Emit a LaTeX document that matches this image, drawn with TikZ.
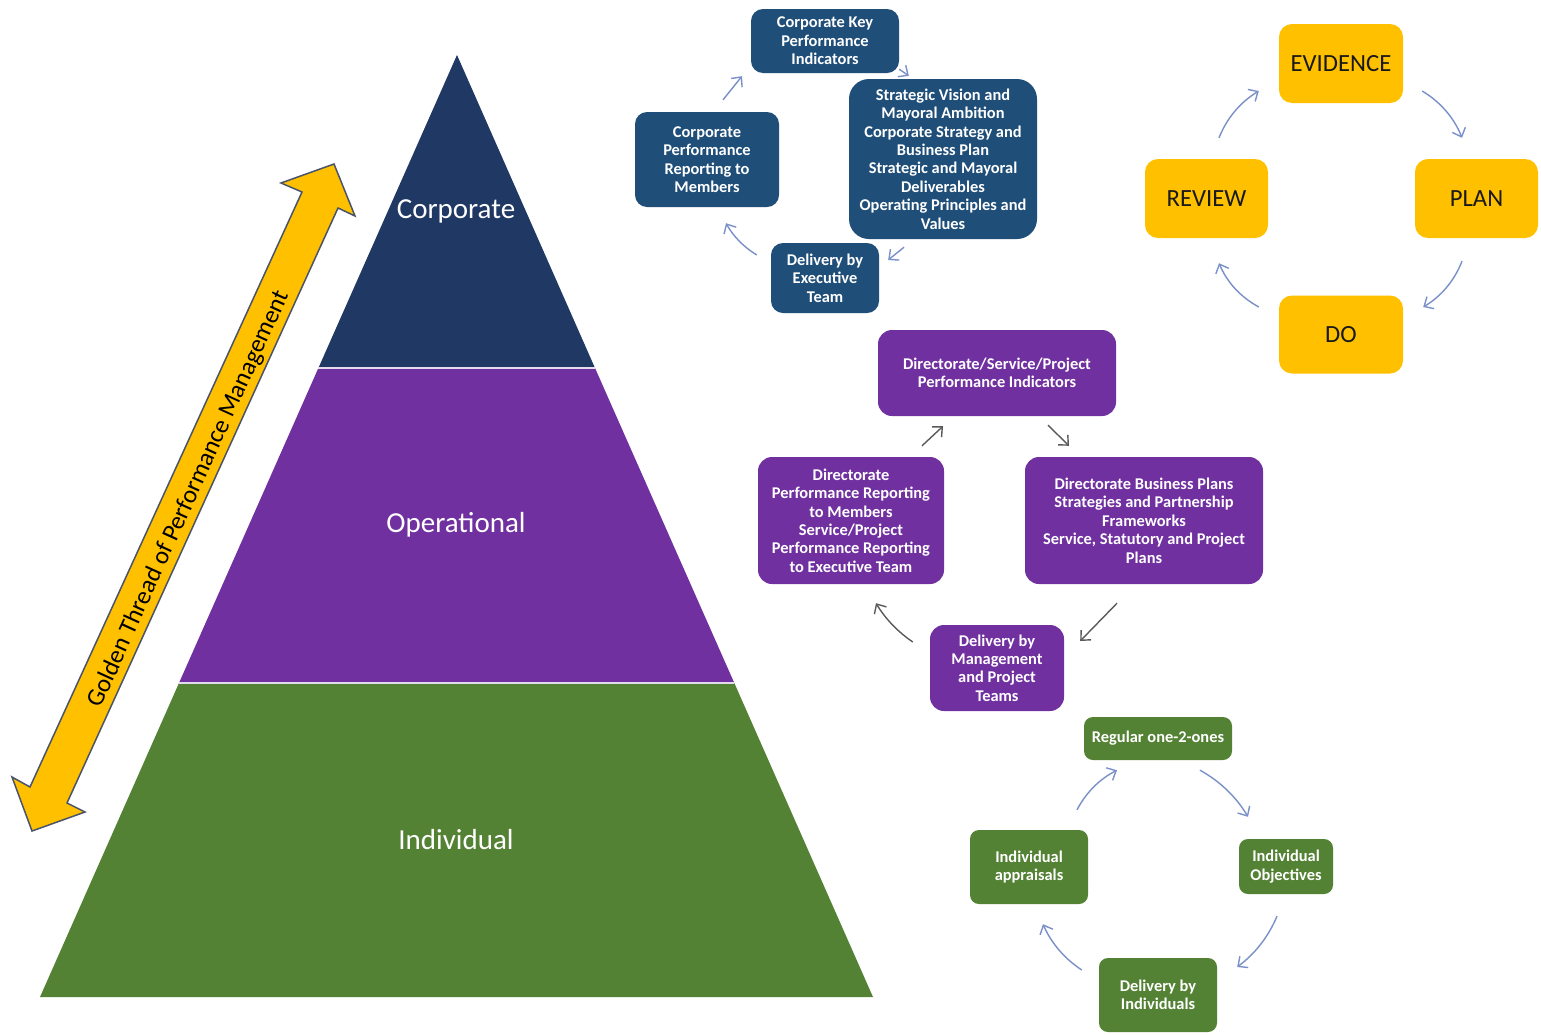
\documentclass[tikz,border=0pt]{standalone}
\usepackage{fontspec}
\setmainfont{Carlito}
\usetikzlibrary{arrows.meta}
\definecolor{navy}{HTML}{203864}
\definecolor{boxblue}{HTML}{1F4E79}
\definecolor{purp}{HTML}{7030A0}
\definecolor{grn}{HTML}{548235}
\definecolor{gold}{HTML}{FFC000}
\definecolor{arrblue}{HTML}{7A90C8}
\definecolor{arrgray}{HTML}{5A5A5A}
\definecolor{outl}{HTML}{4A5468}
\definecolor{sepline}{HTML}{E4DCEC}
\begin{document}
\begin{tikzpicture}[x=1pt,y=-1pt,
  boxtext/.style={inner sep=0pt, align=center, text=white, font=\fontsize{16.4}{18.4}\selectfont\bfseries},
  bluebox/.style={boxtext, fill=boxblue, rounded corners=12pt},
  purpbox/.style={boxtext, fill=purp, rounded corners=14pt},
  grnbox/.style={boxtext, fill=grn, rounded corners=9pt},
  yelbox/.style={fill=gold, rounded corners=13pt, inner sep=0pt, text=black!90, font=\fontsize{24.7}{28}\selectfont},
  cycarrow/.style={-{Straight Barb[length=7.5pt,width=14pt]}, line width=1.4pt, draw=arrblue},
  grayarrow/.style={cycarrow, draw=arrgray},
  level/.style={text=white, font=\fontsize{29}{34}\selectfont}]
\useasboundingbox (0,0) rectangle (1541,1034);
\fill[white] (0,0) rectangle (1541,1034);

% pyramid
\fill[navy] (457,55) -- (595,368) -- (318.4,368) -- cycle;
\fill[purp] (318.4,368) -- (595,368) -- (734.3,683) -- (179,683) -- cycle;
\fill[grn] (179,683) -- (734.3,683) -- (873,997) -- (40,997) -- cycle;
\draw[sepline, line width=2pt] (318.4,368) -- (595,368);
\draw[sepline, line width=2pt] (179,683) -- (734.3,683);
\node[level] (lcorp) at (456,211) {Corporate};
\node[level] (loper) at (456,525) {Operational};
\node[level] (lind) at (456,840) {Individual};

% golden thread arrow
\draw[fill=gold, draw=outl, line width=1.5pt, line join=miter]
  (334,164) -- (355,216) -- (338,208) -- (67,803) -- (85,812) -- (32,831)
  -- (12,777) -- (30,787) -- (302,192) -- (281,183) -- cycle;
\node[rotate=65.5, text=black, font=\fontsize{25}{30}\selectfont] (gtext) at (189,499) {Golden Thread of Performance Management};

% corporate cycle
\node[bluebox, minimum width=148pt, minimum height=64pt] (b1) at (825,41) {Corporate Key\\Performance\\Indicators};
\node[bluebox, rounded corners=20pt, minimum width=188pt, minimum height=160pt] (b2) at (943,159) {Strategic Vision and\\Mayoral Ambition\\Corporate Strategy and\\Business Plan\\Strategic and Mayoral\\Deliverables\\Operating Principles and\\Values};
\node[bluebox, minimum width=144pt, minimum height=95pt] (b3) at (707,159.5) {Corporate\\Performance\\Reporting to\\Members};
\node[bluebox, minimum width=108pt, minimum height=70pt] (b4) at (825,278) {Delivery by\\Executive\\Team};
\draw[cycarrow] ([shift={(16,-12)}]b3.north) -- ([shift={(-83,3)}]b1.south);
\draw[cycarrow] ([shift={(0,-4)}]b1.south east) -- ([shift={(60,-3)}]b2.north west);
\draw[cycarrow] ([shift={(-39,8)}]b2.south) -- ([shift={(9,-18)}]b4.east);
\draw[cycarrow] ([shift={(-14,-23)}]b4.west) .. controls (743.8,247.1) and (733.4,236.5) .. ([shift={(19,16)}]b3.south);

% evidence cycle
\node[yelbox, minimum width=124pt, minimum height=79pt] (evid) at (1341,63.5) {EVIDENCE};
\node[yelbox, minimum width=123pt, minimum height=79pt] (review) at (1206.5,198.5) {REVIEW};
\node[yelbox, minimum width=123pt, minimum height=79pt] (plan) at (1476.5,198.5) {PLAN};
\node[yelbox, minimum width=124pt, minimum height=78pt] (do) at (1341,334.5) {DO};
\draw[cycarrow] ([shift={(12.5,-21)}]review.north) .. controls (1227,117.8) and (1240.4,102.2) .. ([shift={(-20,27.5)}]evid.west);
\draw[cycarrow] ([shift={(19,27.5)}]evid.east) .. controls (1440.6,102.2) and (1454,117.8) .. ([shift={(-14.5,-21)}]plan.north);
\draw[cycarrow] ([shift={(-14.5,23)}]plan.south) .. controls (1454.3,280.8) and (1441.3,296.2) .. ([shift={(20,-27.5)}]do.east);
\draw[cycarrow] ([shift={(-20,-27.5)}]do.west) .. controls (1240.5,297) and (1227.1,282.4) .. ([shift={(12.5,25)}]review.south);

% operational cycle
\node[purpbox, minimum width=238pt, minimum height=86pt] (p1) at (997,373) {Directorate/Service/Project\\Performance Indicators};
\node[purpbox, minimum width=186pt, minimum height=127pt] (p2) at (851,520.5) {Directorate\\Performance Reporting\\to Members\\Service/Project\\Performance Reporting\\to Executive Team};
\node[purpbox, minimum width=238pt, minimum height=127pt] (p3) at (1144,520.5) {Directorate Business Plans\\Strategies and Partnership\\Frameworks\\Service, Statutory and Project\\Plans};
\node[purpbox, minimum width=134pt, minimum height=86pt] (p4) at (997,668) {Delivery by\\Management\\and Project\\Teams};
\draw[grayarrow] ([shift={(71,-11)}]p2.north) -- ([shift={(-54,10)}]p1.south);
\draw[grayarrow] ([shift={(51,9)}]p1.south) -- ([shift={(-75,-11)}]p3.north);
\draw[grayarrow] ([shift={(-27,19)}]p3.south) -- ([shift={(16,-27)}]p4.east);
\draw[grayarrow] ([shift={(-17,-26)}]p4.west) .. controls (897.8,631.8) and (885.4,618.8) .. ([shift={(25,19)}]p2.south);

% individual cycle
\node[grnbox, minimum width=148pt, minimum height=43pt] (g1) at (1158,738.5) {Regular one-2-ones};
\node[grnbox, minimum width=118pt, minimum height=74pt] (g2) at (1029,867) {Individual\\appraisals};
\node[grnbox, minimum width=94pt, minimum height=55pt] (g3) at (1286,866.5) {Individual\\Objectives};
\node[grnbox, minimum width=118pt, minimum height=74pt] (g4) at (1158,995) {Delivery by\\Individuals};
\draw[cycarrow] ([shift={(48,-20)}]g2.north) .. controls (1086.1,792.5) and (1099.5,779.1) .. ([shift={(-41,10)}]g1.south);
\draw[cycarrow] ([shift={(42,10)}]g1.south) .. controls (1220.2,781.4) and (1236.2,797) .. ([shift={(-38,-22)}]g3.north);
\draw[cycarrow] ([shift={(-9,22)}]g3.south) .. controls (1268.4,936.7) and (1255,953.7) .. ([shift={(20,-28)}]g4.east);
\draw[cycarrow] ([shift={(-17,-25)}]g4.west) .. controls (1064.4,958.6) and (1051.4,943.2) .. ([shift={(14,20)}]g2.south);
\end{tikzpicture}
\end{document}
